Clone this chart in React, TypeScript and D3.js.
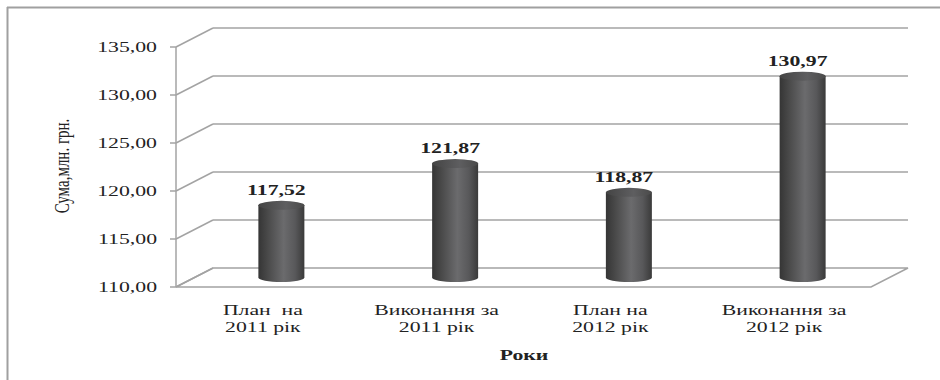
import React from "react";
import * as d3 from "d3";

const categories: string[][] = [
  ["План  на", "2011 рік"],
  ["Виконання за", "2011 рік"],
  ["План на", "2012 рік"],
  ["Виконання за", "2012 рік"],
];
const values: number[] = [117.52, 121.87, 118.87, 130.97];
const yTicks: number[] = [110, 115, 120, 125, 130, 135];
const yTitle = "Сума,млн. грн.";
const xTitle = "Роки";

const W = 940;
const H = 380;
const SX = 1.45;
const FONT = "Liberation Serif";

const left = 176;
const right = 871;
const top = 47;
const bottom = 287;
const DX = 37;
const DY = -19;

const fmt = (v: number) => v.toFixed(2).replace(".", ",");

export default function App() {
  const y = d3.scaleLinear().domain([110, 135]).range([bottom, top]);
  const x = d3
    .scaleBand<number>()
    .domain(d3.range(categories.length))
    .range([left, right])
    .padding(0);
  const bw = x.bandwidth();
  const rx = 23;
  const ry = 4.5;
  const grid = "#a3a3a3";

  return (
    <svg
      width={W}
      height={H}
      style={{ position: "absolute", left: 0, top: 0, display: "block", background: "#fff" }}
    >
      <defs>
        <linearGradient id="cyl" x1="0" x2="1" y1="0" y2="0">
          <stop offset="0%" stopColor="#353535" />
          <stop offset="18%" stopColor="#474747" />
          <stop offset="55%" stopColor="#6b6b6d" />
          <stop offset="80%" stopColor="#58585a" />
          <stop offset="100%" stopColor="#3a3a3a" />
        </linearGradient>
        <linearGradient id="cap" x1="0" x2="1" y1="0" y2="0">
          <stop offset="0%" stopColor="#444" />
          <stop offset="60%" stopColor="#5e5e60" />
          <stop offset="100%" stopColor="#4a4a4a" />
        </linearGradient>
      </defs>

      {/* outer frame */}
      <line x1={7.5} y1={7} x2={7.5} y2={H} stroke="#a0a0a0" strokeWidth={2} />
      <line x1={7} y1={7.5} x2={W} y2={7.5} stroke="#a0a0a0" strokeWidth={2} />

      {/* back wall grid lines and side wall diagonals */}
      {yTicks.map((t) => (
        <g key={t}>
          {t !== 110 && (
            <line x1={left + DX} y1={y(t) + DY} x2={right + DX} y2={y(t) + DY} stroke={grid} strokeWidth={1.5} />
          )}
          <line x1={left} y1={y(t)} x2={left + DX} y2={y(t) + DY} stroke={grid} strokeWidth={1.5} />
          <line x1={left - 6} y1={y(t)} x2={left} y2={y(t)} stroke={grid} strokeWidth={1.5} />
          <text
            transform={`translate(157,${y(t) + 5}) scale(${SX},1)`}
            textAnchor="end"
            fontFamily={FONT}
            fontSize={15}
            fill="#222"
          >
            {fmt(t)}
          </text>
        </g>
      ))}

      {/* floor */}
      <polygon
        points={`${left},${bottom} ${right},${bottom} ${right + DX},${bottom + DY} ${left + DX},${bottom + DY}`}
        fill="none"
        stroke={grid}
        strokeWidth={1.5}
      />
      {/* front vertical axis */}
      <line x1={left} y1={top} x2={left} y2={bottom} stroke={grid} strokeWidth={1.5} />

      {/* cylinders */}
      {values.map((v, i) => {
        const cx = (x(i) as number) + bw / 2 + DX / 2;
        const yt = y(v) + DY / 2;
        const yb = y(110) + DY / 2;
        const body = `M${cx - rx},${yt} L${cx - rx},${yb} A${rx},${ry} 0 0 0 ${cx + rx},${yb} L${cx + rx},${yt} Z`;
        return (
          <g key={i}>
            <path d={body} fill="url(#cyl)" />
            <ellipse cx={cx} cy={yt} rx={rx} ry={ry} fill="url(#cap)" />
            <text
              transform={`translate(${cx - 5},${yt - ry - 6}) scale(${SX},1)`}
              textAnchor="middle"
              fontFamily={FONT}
              fontWeight="bold"
              fontSize={15}
              fill="#222"
            >
              {fmt(v)}
            </text>
          </g>
        );
      })}

      {/* category labels */}
      {categories.map((lines, i) => {
        const cx = (x(i) as number) + bw / 2;
        return lines.map((ln, j) => (
          <text
            key={`${i}-${j}`}
            transform={`translate(${cx},${315 + j * 17}) scale(${SX},1)`}
            textAnchor="middle"
            fontFamily={FONT}
            fontSize={15}
            fill="#222"
            style={{ whiteSpace: "pre" }}
          >
            {ln}
          </text>
        ));
      })}

      {/* axis titles */}
      <text
        transform={`translate(524,360) scale(${SX},1)`}
        textAnchor="middle"
        fontFamily={FONT}
        fontWeight="bold"
        fontSize={15}
        fill="#222"
      >
        {xTitle}
      </text>
      <text
        transform={`translate(69,166) scale(${SX},1) rotate(-90)`}
        textAnchor="middle"
        fontFamily={FONT}
        fontSize={15}
        fill="#222"
      >
        {yTitle}
      </text>
    </svg>
  );
}
